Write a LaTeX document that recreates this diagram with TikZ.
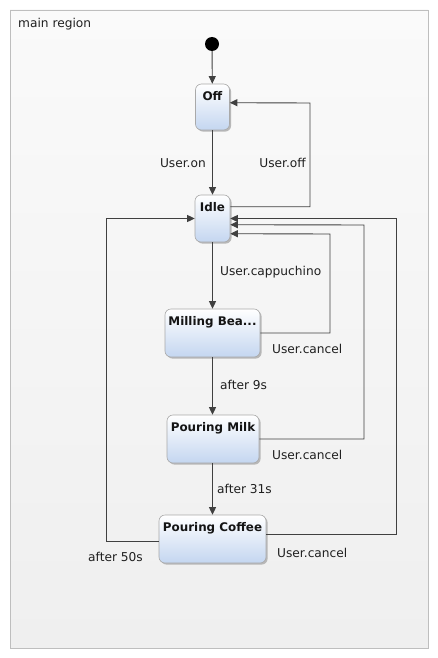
\documentclass[tikz,border=0pt]{standalone}
\usepackage{fontspec}
\setmainfont{DejaVu Sans}
\usetikzlibrary{arrows.meta}
\definecolor{lineC}{HTML}{404040}
\definecolor{stBot}{HTML}{C4D6F0}
\definecolor{stBorder}{HTML}{A9A9A9}
\definecolor{regTop}{HTML}{FAFAFA}
\definecolor{regBot}{HTML}{EFEFEF}
\definecolor{regBorder}{HTML}{BEBEBE}
\tikzset{
  stbox/.style={rounded corners=6pt, draw=stBorder, line width=0.6pt,
    top color=white, bottom color=stBot, minimum height=46pt, inner sep=0pt,
    preaction={fill=black!28, rounded corners=6pt, transform canvas={xshift=1.6pt,yshift=-1.6pt}}},
  sttitle/.style={anchor=north, yshift=-7.5pt, font=\fontsize{11.9}{13}\selectfont\bfseries, text=black!92, inner sep=0pt},
  arr/.style={draw=lineC, line width=0.9pt, -{Triangle[length=7.5pt,width=7pt]}},
  lab/.style={font=\fontsize{12.2}{14}\selectfont, text=black!88, inner sep=0pt},
}
\begin{document}
\begin{tikzpicture}[x=1pt,y=-1pt]
\useasboundingbox (0,0) rectangle (438,658);
\node[draw=regBorder, line width=0.8pt, top color=regTop, bottom color=regBot,
  minimum width=418pt, minimum height=638pt, inner sep=0pt] (region) at (219,329) {};
\node[lab, anchor=west] (regname) at (18,24) {main region};

\node[circle, fill=black, minimum size=14pt, inner sep=0pt] (init) at (212,44) {};

\node[stbox, minimum width=34pt, label={[sttitle]north:Off}] (off) at (212.5,107) {};
\node[stbox, minimum width=35pt, minimum height=47pt, label={[sttitle]north:Idle}] (idle) at (212.5,218.5) {};
\node[stbox, minimum width=95pt, minimum height=48pt, label={[sttitle]north:Milling Bea...}] (mill) at (212.5,333) {};
\node[stbox, minimum width=92pt, minimum height=48pt, label={[sttitle]north:Pouring Milk}] (milk) at (213,439) {};
\node[stbox, minimum width=107pt, minimum height=48pt, label={[sttitle]north:Pouring Coffee}] (coffee) at (212.5,539) {};

% transitions
\draw[arr] (init) -- (off);
\draw[arr] (off) -- (idle);
\draw[arr] ([yshift=-12pt]idle.north east) -| (310,103) -- ([yshift=-19pt]off.north east);
\draw[arr] (idle) -- (mill);
\draw[arr] (mill.east) -| (330,234) -- ([yshift=-39pt]idle.north east);
\draw[arr] (mill) -- (mill |- milk.north);
\draw[arr] (milk.east) -| (364,225) -- ([yshift=-30pt]idle.north east);
\draw[arr] (mill |- milk.south) -- (mill |- coffee.north);
\draw[arr] ([yshift=-20pt]coffee.north east) -| (396,218.5) -- (idle.east);
\draw[arr] ([yshift=-27pt]coffee.north west) -| (106,218.5) -- (idle.west);

% labels
\node[lab, anchor=east] (lon) at (206,163) {User.on};
\node[lab, anchor=east] (loff) at (306,163) {User.off};
\node[lab, anchor=west] (lcap) at (220,272) {User.cappuchino};
\node[lab, anchor=west] (lc1) at (272,349) {User.cancel};
\node[lab, anchor=west] (l9) at (220,385) {after 9s};
\node[lab, anchor=west] (lc2) at (272,455) {User.cancel};
\node[lab, anchor=west] (l31) at (217,489) {after 31s};
\node[lab, anchor=west] (lc3) at (277,553) {User.cancel};
\node[lab, anchor=west] (l50) at (88,557) {after 50s};
\end{tikzpicture}
\end{document}
